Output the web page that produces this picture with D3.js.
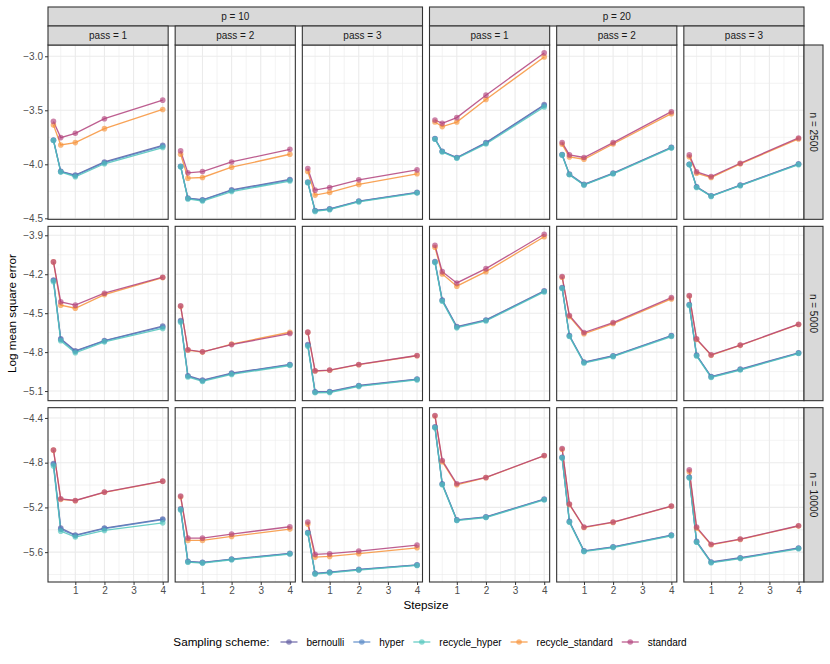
<!DOCTYPE html>
<html>
<head>
<meta charset="utf-8">
<script src="https://cdn.jsdelivr.net/npm/d3@7"></script>
<style>
body { margin: 0; background: #fff; }
text { font-family: "Liberation Sans", Arial, sans-serif; }
</style>
</head>
<body>
<svg id="chart" width="830" height="664"></svg>
<script>
// facets and x values
var stepsizes = [0.25, 0.5, 1, 2, 4];
var schemes = ["bernoulli", "hyper", "recycle_hyper", "recycle_standard", "standard"];
var pValues = [10, 20];
var passValues = [1, 2, 3];
var nValues = [2500, 5000, 10000];
var xTicks = [1, 2, 3, 4];
var yTicks = [
  [-3.0, -3.5, -4.0, -4.5],
  [-3.9, -4.2, -4.5, -4.8, -5.1],
  [-4.4, -4.8, -5.2, -5.6]
];

// log mse, one row per panel: p=10 pass 1..3, then p=20 pass 1..3
var bernoulli_2500 = [
  [-3.775, -4.065, -4.100, -3.978, -3.825],
  [-4.018, -4.313, -4.328, -4.236, -4.140],
  [-4.165, -4.427, -4.412, -4.340, -4.260],
  [-3.762, -3.879, -3.937, -3.799, -3.448],
  [-3.910, -4.091, -4.186, -4.082, -3.842],
  [-3.999, -4.208, -4.291, -4.192, -3.996]
];
var hyper_2500 = [
  [-3.778, -4.068, -4.105, -3.985, -3.832],
  [-4.020, -4.316, -4.332, -4.242, -4.146],
  [-4.168, -4.430, -4.415, -4.343, -4.263],
  [-3.765, -3.882, -3.940, -3.804, -3.455],
  [-3.913, -4.094, -4.189, -4.085, -3.846],
  [-4.001, -4.211, -4.294, -4.195, -3.999]
];
var recycle_hyper_2500 = [
  [-3.780, -4.072, -4.115, -3.995, -3.845],
  [-4.022, -4.320, -4.340, -4.252, -4.155],
  [-4.170, -4.436, -4.420, -4.348, -4.266],
  [-3.768, -3.886, -3.944, -3.812, -3.470],
  [-3.915, -4.097, -4.192, -4.088, -3.850],
  [-4.003, -4.214, -4.297, -4.198, -4.003]
];
var recycle_standard_2500 = [
  [-3.637, -3.821, -3.799, -3.670, -3.492],
  [-3.907, -4.128, -4.122, -4.027, -3.907],
  [-4.066, -4.285, -4.260, -4.186, -4.088],
  [-3.609, -3.651, -3.609, -3.400, -3.006],
  [-3.815, -3.932, -3.953, -3.812, -3.531],
  [-3.930, -4.083, -4.122, -3.996, -3.765]
];
var standard_2500 = [
  [-3.603, -3.753, -3.713, -3.578, -3.406],
  [-3.876, -4.079, -4.067, -3.978, -3.861],
  [-4.039, -4.239, -4.214, -4.144, -4.052],
  [-3.590, -3.621, -3.568, -3.360, -2.969],
  [-3.799, -3.913, -3.937, -3.799, -3.513],
  [-3.913, -4.070, -4.113, -3.990, -3.756]
];

var bernoulli_5000 = [
  [-4.244, -4.698, -4.790, -4.711, -4.600],
  [-4.557, -4.982, -5.016, -4.962, -4.895],
  [-4.742, -5.105, -5.103, -5.057, -5.008],
  [-4.103, -4.398, -4.603, -4.552, -4.328],
  [-4.303, -4.672, -4.877, -4.828, -4.672],
  [-4.434, -4.823, -4.988, -4.931, -4.805]
];
var hyper_5000 = [
  [-4.248, -4.703, -4.795, -4.714, -4.606],
  [-4.562, -4.986, -5.020, -4.966, -4.898],
  [-4.748, -5.108, -5.106, -5.060, -5.010],
  [-4.106, -4.402, -4.607, -4.555, -4.331],
  [-4.306, -4.675, -4.880, -4.831, -4.675],
  [-4.437, -4.826, -4.991, -4.934, -4.808]
];
var recycle_hyper_5000 = [
  [-4.257, -4.713, -4.805, -4.721, -4.618],
  [-4.570, -4.992, -5.026, -4.972, -4.903],
  [-4.755, -5.113, -5.111, -5.064, -5.014],
  [-4.110, -4.408, -4.613, -4.560, -4.336],
  [-4.310, -4.680, -4.884, -4.835, -4.680],
  [-4.440, -4.830, -4.995, -4.938, -4.811]
];
var recycle_standard_5000 = [
  [-4.105, -4.438, -4.462, -4.357, -4.226],
  [-4.447, -4.785, -4.800, -4.738, -4.647],
  [-4.648, -4.946, -4.940, -4.897, -4.828],
  [-3.992, -4.198, -4.292, -4.180, -3.911],
  [-4.223, -4.526, -4.659, -4.580, -4.390],
  [-4.368, -4.702, -4.824, -4.748, -4.587]
];
var standard_5000 = [
  [-4.105, -4.413, -4.438, -4.346, -4.223],
  [-4.444, -4.782, -4.798, -4.742, -4.657],
  [-4.646, -4.944, -4.938, -4.895, -4.826],
  [-3.977, -4.180, -4.267, -4.157, -3.892],
  [-4.218, -4.518, -4.649, -4.572, -4.380],
  [-4.365, -4.698, -4.821, -4.746, -4.585]
];

var bernoulli_10000 = [
  [-4.807, -5.385, -5.447, -5.385, -5.305],
  [-5.213, -5.682, -5.691, -5.662, -5.611],
  [-5.424, -5.789, -5.778, -5.754, -5.713],
  [-4.480, -4.989, -5.311, -5.284, -5.126],
  [-4.751, -5.325, -5.588, -5.552, -5.447],
  [-4.929, -5.504, -5.688, -5.650, -5.563]
];
var hyper_10000 = [
  [-4.815, -5.395, -5.452, -5.390, -5.310],
  [-5.218, -5.686, -5.694, -5.665, -5.614],
  [-5.428, -5.792, -5.781, -5.757, -5.716],
  [-4.484, -4.993, -5.314, -5.287, -5.129],
  [-4.755, -5.329, -5.591, -5.555, -5.450],
  [-4.933, -5.508, -5.691, -5.653, -5.566]
];
var recycle_hyper_10000 = [
  [-4.829, -5.412, -5.465, -5.406, -5.338],
  [-5.222, -5.690, -5.698, -5.668, -5.617],
  [-5.432, -5.796, -5.785, -5.760, -5.719],
  [-4.488, -4.998, -5.318, -5.291, -5.133],
  [-4.759, -5.333, -5.595, -5.559, -5.454],
  [-4.937, -5.512, -5.695, -5.657, -5.570]
];
var recycle_standard_10000 = [
  [-4.688, -5.128, -5.140, -5.065, -4.967],
  [-5.105, -5.495, -5.495, -5.459, -5.394],
  [-5.349, -5.644, -5.638, -5.614, -5.561],
  [-4.382, -4.792, -4.998, -4.934, -4.738],
  [-4.680, -5.175, -5.380, -5.334, -5.190],
  [-4.880, -5.385, -5.534, -5.486, -5.367]
];
var standard_10000 = [
  [-4.686, -5.123, -5.138, -5.063, -4.965],
  [-5.099, -5.474, -5.474, -5.438, -5.373],
  [-5.331, -5.620, -5.614, -5.590, -5.537],
  [-4.379, -4.780, -4.989, -4.932, -4.736],
  [-4.673, -5.170, -5.376, -5.331, -5.188],
  [-4.864, -5.376, -5.530, -5.483, -5.364]
];

var series = {
  bernoulli: [bernoulli_2500, bernoulli_5000, bernoulli_10000],
  hyper: [hyper_2500, hyper_5000, hyper_10000],
  recycle_hyper: [recycle_hyper_2500, recycle_hyper_5000, recycle_hyper_10000],
  recycle_standard: [recycle_standard_2500, recycle_standard_5000, recycle_standard_10000],
  standard: [standard_2500, standard_5000, standard_10000]
};

var colors = {
  bernoulli: "#5f5aa0",
  hyper: "#5585c4",
  recycle_hyper: "#4fc4bb",
  recycle_standard: "#f7933a",
  standard: "#b2427c"
};

// layout (avoid global "top", it is window.top)
var plotL = 48, plotR = 804, plotT = 45, plotB = 582, gap = 7;
var pw = (plotR - plotL - 5 * gap) / 6;
var ph = (plotB - plotT - 2 * gap) / 3;
var colX = function(c) { return plotL + c * (pw + gap); };
var rowY = function(r) { return plotT + r * (ph + gap); };
var small = "10px", big = "11.7px";

var minus = function(v) { return d3.format(".1f")(v).replace("-", "\u2212"); };

var svg = d3.select("#chart");
svg.append("rect").attr("width", 830).attr("height", 664).attr("fill", "#fff");

// x scale shared, 5% expansion like ggplot
var xs = d3.extent(stepsizes), xr = xs[1] - xs[0];
var x = d3.scaleLinear()
  .domain([xs[0] - 0.05 * xr, xs[1] + 0.05 * xr])
  .range([0, pw]);
var xMinor = [0.5, 1.5, 2.5, 3.5];

function minorOf(ticks) {
  var step = ticks[1] - ticks[0];
  var out = [ticks[0] - step / 2];
  for (var i = 0; i < ticks.length; i++) out.push(ticks[i] + step / 2);
  return out;
}

var line = d3.line();

nValues.forEach(function(n, r) {
  // free y per row
  var all = [];
  schemes.forEach(function(s) { series[s][r].forEach(function(a) { all = all.concat(a); }); });
  var ys = d3.extent(all), yr = ys[1] - ys[0];
  var y = d3.scaleLinear()
    .domain([ys[0] - 0.05 * yr, ys[1] + 0.05 * yr])
    .range([ph, 0]);
  var yMinor = minorOf(yTicks[r]).filter(function(v) { return v > y.domain()[0] && v < y.domain()[1]; });

  for (var c = 0; c < 6; c++) {
    var g = svg.append("g").attr("transform", "translate(" + colX(c) + "," + rowY(r) + ")");

    g.selectAll(".ymin").data(yMinor).enter().append("line")
      .attr("x1", 0).attr("x2", pw)
      .attr("y1", function(d) { return y(d); }).attr("y2", function(d) { return y(d); })
      .attr("stroke", "#ebebeb").attr("stroke-width", 0.6);
    g.selectAll(".xmin").data(xMinor).enter().append("line")
      .attr("y1", 0).attr("y2", ph)
      .attr("x1", function(d) { return x(d); }).attr("x2", function(d) { return x(d); })
      .attr("stroke", "#ebebeb").attr("stroke-width", 0.6);
    g.selectAll(".ymaj").data(yTicks[r]).enter().append("line")
      .attr("x1", 0).attr("x2", pw)
      .attr("y1", function(d) { return y(d); }).attr("y2", function(d) { return y(d); })
      .attr("stroke", "#ebebeb").attr("stroke-width", 1.1);
    g.selectAll(".xmaj").data(xTicks).enter().append("line")
      .attr("y1", 0).attr("y2", ph)
      .attr("x1", function(d) { return x(d); }).attr("x2", function(d) { return x(d); })
      .attr("stroke", "#ebebeb").attr("stroke-width", 1.1);

    // lines first, then points
    schemes.forEach(function(s) {
      var vals = series[s][r][c];
      g.append("path")
        .attr("d", line(vals.map(function(v, i) { return [x(stepsizes[i]), y(v)]; })))
        .attr("fill", "none")
        .attr("stroke", colors[s])
        .attr("stroke-width", 1.3)
        .attr("stroke-opacity", 0.85);
    });
    schemes.forEach(function(s) {
      g.selectAll(".pt-" + s).data(series[s][r][c]).enter().append("circle")
        .attr("cx", function(d, i) { return x(stepsizes[i]); })
        .attr("cy", function(d) { return y(d); })
        .attr("r", 2.8)
        .attr("fill", colors[s])
        .attr("fill-opacity", 0.65);
    });

    g.append("rect").attr("width", pw).attr("height", ph)
      .attr("fill", "none").attr("stroke", "#333").attr("stroke-width", 1.1);

    // y axis on first column
    if (c === 0) {
      var ya = d3.axisLeft(y).tickValues(yTicks[r]).tickSize(3).tickPadding(2).tickFormat(minus);
      var ag = g.append("g").call(ya);
      ag.select(".domain").remove();
      ag.selectAll("line").attr("stroke", "#333").attr("stroke-width", 1);
      ag.selectAll("text").attr("fill", "#4d4d4d").style("font-size", small)
        .style("font-family", "Liberation Sans, Arial, sans-serif");
    }
    // x axis on bottom row
    if (r === 2) {
      var xa = d3.axisBottom(x).tickValues(xTicks).tickSize(3).tickPadding(2).tickFormat(d3.format("d"));
      var bg = g.append("g").attr("transform", "translate(0," + ph + ")").call(xa);
      bg.select(".domain").remove();
      bg.selectAll("line").attr("stroke", "#333").attr("stroke-width", 1);
      bg.selectAll("text").attr("fill", "#4d4d4d").style("font-size", small)
        .style("font-family", "Liberation Sans, Arial, sans-serif");
    }
  }

  // right strip
  var sx = plotR, sy = rowY(r);
  svg.append("rect").attr("x", sx).attr("y", sy).attr("width", 19).attr("height", ph)
    .attr("fill", "#d9d9d9").attr("stroke", "#333").attr("stroke-width", 1.1);
  svg.append("text")
    .attr("transform", "translate(" + (sx + 9.5) + "," + (sy + ph / 2) + ") rotate(90)")
    .attr("text-anchor", "middle").attr("dy", "0.35em")
    .attr("fill", "#1a1a1a").style("font-size", small)
    .text("n = " + n);
});

// top strips
pValues.forEach(function(p, k) {
  var x0 = colX(k * 3), x1 = colX(k * 3 + 2) + pw;
  svg.append("rect").attr("x", x0).attr("y", 7).attr("width", x1 - x0).attr("height", 19)
    .attr("fill", "#d9d9d9").attr("stroke", "#333").attr("stroke-width", 1.1);
  svg.append("text").attr("x", (x0 + x1) / 2).attr("y", 16.5).attr("dy", "0.35em")
    .attr("text-anchor", "middle").attr("fill", "#1a1a1a").style("font-size", small)
    .text("p = " + p);
  passValues.forEach(function(ps, j) {
    var cx = colX(k * 3 + j);
    svg.append("rect").attr("x", cx).attr("y", 26).attr("width", pw).attr("height", 19)
      .attr("fill", "#d9d9d9").attr("stroke", "#333").attr("stroke-width", 1.1);
    svg.append("text").attr("x", cx + pw / 2).attr("y", 35.5).attr("dy", "0.35em")
      .attr("text-anchor", "middle").attr("fill", "#1a1a1a").style("font-size", small)
      .text("pass = " + ps);
  });
});

// axis titles
svg.append("text").attr("x", (plotL + plotR) / 2).attr("y", 609)
  .attr("text-anchor", "middle").style("font-size", big).attr("fill", "#000")
  .text("Stepsize");
svg.append("text").attr("transform", "translate(16," + (plotT + plotB) / 2 + ") rotate(-90)")
  .attr("text-anchor", "middle").style("font-size", big).attr("fill", "#000")
  .text("Log mean square error");

// legend
var leg = svg.append("g");
var ly = 642;
var title = leg.append("text").attr("x", 0).attr("y", ly).attr("dy", "0.35em")
  .style("font-size", big).attr("fill", "#000").text("Sampling scheme:");
var cur = title.node().getComputedTextLength() + 11;
schemes.forEach(function(s) {
  leg.append("line").attr("x1", cur).attr("x2", cur + 17).attr("y1", ly).attr("y2", ly)
    .attr("stroke", colors[s]).attr("stroke-width", 1.3).attr("stroke-opacity", 0.85);
  leg.append("circle").attr("cx", cur + 8.5).attr("cy", ly).attr("r", 2.8)
    .attr("fill", colors[s]).attr("fill-opacity", 0.65);
  cur += 17 + 9;
  var t = leg.append("text").attr("x", cur).attr("y", ly).attr("dy", "0.35em")
    .style("font-size", small).attr("fill", "#000").text(s);
  cur += t.node().getComputedTextLength() + 9;
});
var lw = cur - 9;
leg.attr("transform", "translate(" + (430 - lw / 2) + ",0)");
</script>
</body>
</html>
